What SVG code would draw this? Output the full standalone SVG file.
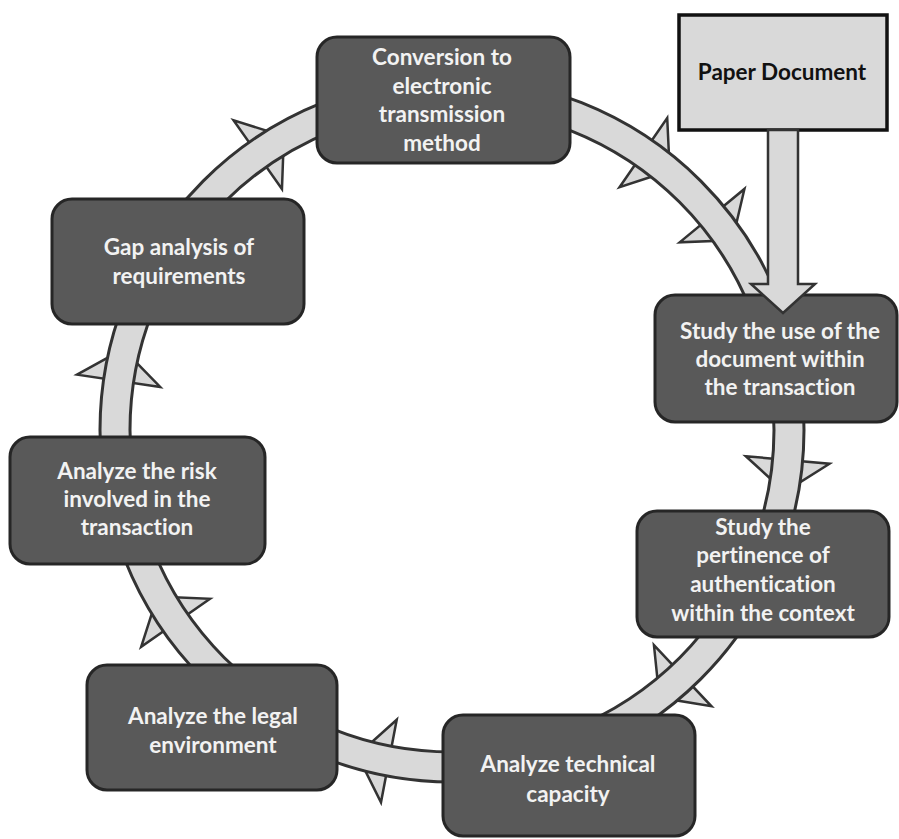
<svg xmlns="http://www.w3.org/2000/svg" xmlns:xlink="http://www.w3.org/1999/xlink" width="899" height="839" viewBox="0 0 899 839">
<style>
.node rect{fill:#595959;stroke:#262626;stroke-width:3}
.node text{fill:#f2f2f2;font-family:Lato,"Open Sans","DejaVu Sans",sans-serif;font-weight:bold;font-size:22.5px;text-anchor:middle;font-variant-ligatures:none}
.ah{fill:#d9d9d9;stroke:#333;stroke-width:2.5;stroke-linejoin:miter}
.paper rect{fill:#d9d9d9;stroke:#111;stroke-width:3.5}
.paper text{fill:#111;font-family:Lato,"Open Sans","DejaVu Sans",sans-serif;font-weight:bold;font-size:22.5px;text-anchor:middle}
</style>
<defs>
<polygon id="ah" class="ah" points="-42,0 42,0 0,32"/>
</defs>
<rect width="899" height="839" fill="#fff"/>
<g id="connectors">
<g id="arrowheads">
<use xlink:href="#ah" transform="rotate(-125.2 452 430) translate(789 430)"/>
<use xlink:href="#ah" transform="rotate(-55.4 452 430) translate(789 430)"/>
<use xlink:href="#ah" transform="rotate(-39.5 452 430) translate(789 430)"/>
<use xlink:href="#ah" transform="rotate(5.1 452 430) translate(789 430)"/>
<use xlink:href="#ah" transform="rotate(46.8 452 430) translate(789 430)"/>
<use xlink:href="#ah" transform="rotate(100.8 452 430) translate(789 430)"/>
<use xlink:href="#ah" transform="rotate(145.1 452 430) translate(789 430)"/>
<use xlink:href="#ah" transform="rotate(188.4 452 430) translate(789 430)"/>
</g>
<circle cx="452" cy="430" r="337" fill="none" stroke="#333" stroke-width="33"/>
<circle cx="452" cy="430" r="337" fill="none" stroke="#d9d9d9" stroke-width="27"/>
</g>
<g id="n-conversion" class="node">
<rect x="317" y="37" width="253" height="126" rx="20"/>
<text x="442" y="65">Conversion to</text>
<text x="442" y="94">electronic</text>
<text x="442" y="122">transmission</text>
<text x="442" y="151">method</text>
</g>
<g id="n-gap" class="node">
<rect x="52" y="199" width="252" height="125" rx="20"/>
<text x="179" y="255">Gap analysis of</text>
<text x="179" y="284">requirements</text>
</g>
<g id="n-risk" class="node">
<rect x="10" y="437" width="255" height="127" rx="20"/>
<text x="137" y="479">Analyze the risk</text>
<text x="137" y="507">involved in the</text>
<text x="137" y="535">transaction</text>
</g>
<g id="n-legal" class="node">
<rect x="87" y="665" width="250" height="125" rx="20"/>
<text x="213" y="724">Analyze the legal</text>
<text x="213" y="753">environment</text>
</g>
<g id="n-technical" class="node">
<rect x="443" y="715" width="252" height="121" rx="20"/>
<text x="568" y="772">Analyze technical</text>
<text x="568" y="802">capacity</text>
</g>
<g id="n-pertinence" class="node">
<rect x="637" y="511" width="252" height="126" rx="20"/>
<text x="763" y="535">Study the</text>
<text x="763" y="563">pertinence of</text>
<text x="763" y="592">authentication</text>
<text x="763" y="621">within the context</text>
</g>
<g id="n-study-use" class="node">
<rect x="655" y="295" width="242" height="127" rx="20"/>
<text x="780" y="339">Study the use of the</text>
<text x="780" y="367">document within</text>
<text x="780" y="395">the transaction</text>
</g>
<g id="n-paper" class="paper">
<rect x="679" y="15" width="208" height="115"/>
<text x="782" y="80">Paper Document</text>
</g>
<g id="paper-arrow">
<polygon points="768,130 798,130 798,284 815,284 783,313 751,284 768,284" fill="#d9d9d9" stroke="#333" stroke-width="2.5"/>
</g>
</svg>
